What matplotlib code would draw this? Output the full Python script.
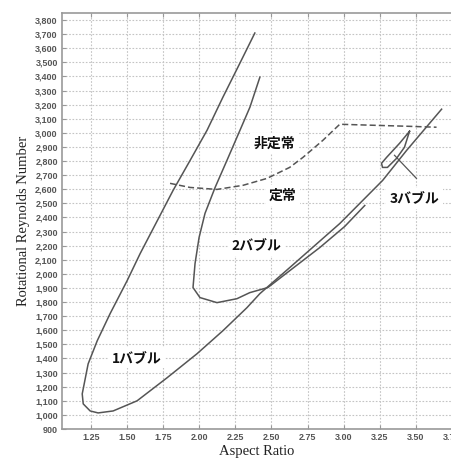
import matplotlib
matplotlib.use("Agg")
import matplotlib.pyplot as plt
from matplotlib.ticker import FuncFormatter

# ---- data ----
one_bubble_x = [2.385, 2.282, 2.164, 2.054, 1.937, 1.819, 1.591, 1.501,
                1.383, 1.294, 1.231, 1.190, 1.197, 1.245, 1.300, 1.404, 1.570, 1.777,
                1.985, 2.164, 2.330, 2.420, 2.627, 2.973, 3.270, 3.436, 3.678]
one_bubble_y = [3708, 3495, 3253, 3018, 2805, 2592, 2144, 1952,
                1718, 1526, 1362, 1149, 1078, 1028, 1014, 1028, 1100, 1263,
                1434, 1597, 1760, 1860, 2045, 2357, 2663, 2876, 3168]

two_bubble_x = [2.420, 2.351, 2.282, 2.192, 2.110, 2.040, 1.999, 1.971, 1.957, 2.005,
                2.123, 2.261, 2.350, 2.475, 2.627, 2.835, 3.007, 3.146]
two_bubble_y = [3395, 3182, 3018, 2805, 2613, 2429, 2258, 2073, 1903, 1832,
                1796, 1824, 1867, 1903, 2023, 2187, 2336, 2485]

three_bubble_x = [3.456, 3.387, 3.297, 3.262, 3.269, 3.303, 3.366, 3.421, 3.456]
three_bubble_y = [3011, 2926, 2826, 2784, 2755, 2755, 2819, 2898, 3011]

boundary_x = [1.798, 1.936, 2.123, 2.303, 2.469, 2.626, 2.718, 2.856, 2.973, 3.201, 3.436, 3.643]
boundary_y = [2642, 2613, 2599, 2628, 2677, 2755, 2826, 2947, 3061, 3054, 3047, 3040]

leader_x = [3.352, 3.504]
leader_y = [2841, 2677]

labels = ["非定常", "定常", "2バブル", "1バブル", "3バブル"]
label_x = [2.523, 2.579, 2.399, 1.570, 3.491]
label_y = [2926, 2556, 2201, 1405, 2535]

x_ticks = [1.25, 1.50, 1.75, 2.00, 2.25, 2.50, 2.75, 3.00, 3.25, 3.50, 3.75]
y_ticks = list(range(900, 3801, 100))

# ---- figure ----
fig = plt.figure(figsize=(4.52, 4.61), dpi=100)
ax = fig.add_axes([62 / 452, 32 / 461, 390 / 452, 416 / 461])

line_col = "#555555"
ax.plot(one_bubble_x, one_bubble_y, color=line_col, lw=1.1, zorder=3)
ax.plot(two_bubble_x, two_bubble_y, color=line_col, lw=1.1, zorder=3)
ax.plot(three_bubble_x, three_bubble_y, color=line_col, lw=1.1, zorder=3)
ax.plot(boundary_x, boundary_y, color=line_col, lw=1.1, linestyle=(0, (4, 2)), zorder=3)
ax.plot(leader_x, leader_y, color=line_col, lw=0.9, zorder=3)

for t, x, y in zip(labels, label_x, label_y):
    ax.text(x, y, t, ha="center", va="center", fontsize=10, fontweight="bold",
            family=["Noto Sans CJK JP", "DejaVu Sans"], color="#111111", zorder=4,
            bbox=dict(boxstyle="square,pad=0.25", fc="white", ec="none"))

ax.set_xlim(1.05, 3.75)
ax.set_ylim(900, 3850)
ax.set_xticks(x_ticks)
ax.set_yticks(y_ticks)
ax.xaxis.set_major_formatter(FuncFormatter(lambda v, p: f"{v:.2f}"))
ax.yaxis.set_major_formatter(FuncFormatter(lambda v, p: f"{int(round(v)):,}"))

ax.grid(True, which="major", color="#c4c4c4", linestyle=(0, (1.5, 1.5)), lw=0.8, zorder=0)
for s in ax.spines.values():
    s.set_color("#999999")
    s.set_linewidth(1.2)
ax.tick_params(direction="in", length=3, width=0.8, color="#999999",
               top=True, right=False, labelsize=6.5, labelcolor="#555555", pad=3)
for lab in ax.get_xticklabels() + ax.get_yticklabels():
    lab.set_family("Liberation Sans")
    lab.set_fontweight("bold")

ax.set_xlabel("Aspect Ratio", family="Liberation Serif", fontsize=10.5, color="#222222", labelpad=2)
ax.set_ylabel("Rotational Reynolds Number", family="Liberation Serif", fontsize=10.5,
              color="#222222", labelpad=4)

fig.savefig("out.png", dpi=100)
